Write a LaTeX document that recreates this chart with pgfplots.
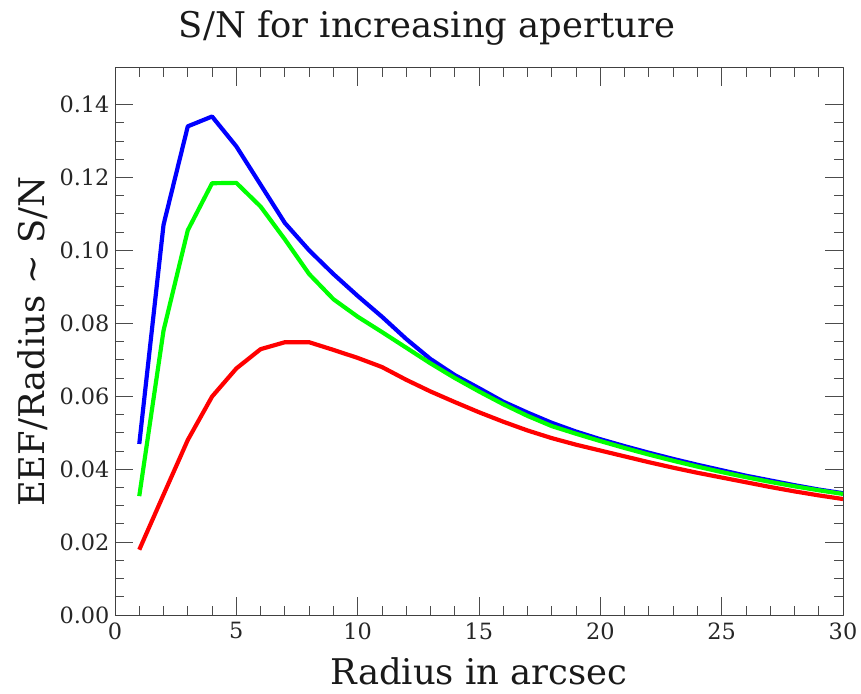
\documentclass[border=0pt]{standalone}
\usepackage{fontspec}
\setmainfont{DejaVu Serif}
\usepackage{pgfplots}
\pgfplotsset{compat=1.18}
\pgfplotstableread{
r blue green red
1 0.0469 0.0326 0.0179
2 0.1070 0.0780 0.0330
3 0.1340 0.1055 0.0480
4 0.1367 0.1184 0.0599
5 0.1285 0.1185 0.0676
6 0.1180 0.1120 0.0729
7 0.1075 0.1030 0.0748
8 0.1000 0.0935 0.0748
9 0.0935 0.0866 0.0727
10 0.0875 0.0818 0.0705
11 0.0818 0.0776 0.0680
12 0.0757 0.0733 0.0645
13 0.0702 0.0690 0.0613
14 0.0658 0.0650 0.0584
15 0.0622 0.0613 0.0556
16 0.0585 0.0578 0.0530
17 0.0555 0.0546 0.0506
18 0.0527 0.0518 0.0485
19 0.0503 0.0497 0.0467
20 0.0482 0.0477 0.0451
21 0.0463 0.0458 0.0435
22 0.0445 0.0440 0.0419
23 0.0428 0.0423 0.0404
24 0.0412 0.0407 0.0390
25 0.0397 0.0392 0.0377
26 0.0382 0.0378 0.0364
27 0.0369 0.0365 0.0351
28 0.0356 0.0353 0.0339
29 0.0344 0.0342 0.0328
30 0.0334 0.0332 0.0318
}\datatable
\begin{document}
\begin{tikzpicture}
\begin{axis}[
  scale only axis,
  width=728bp, height=547bp,
  xmin=0, xmax=30, ymin=0, ymax=0.15,
  xtick={0,5,...,30},
  ytick={0,0.02,...,0.14},
  minor x tick num=4,
  minor y tick num=3,
  tick align=inside,
  major tick length=18bp,
  minor tick length=9bp,
  every tick/.style={black!70, line width=0.8pt},
  axis line style={black!75, line width=1pt},
  tick label style={font=\fontsize{22.5}{27}\selectfont, text=black!85},
  /pgf/number format/assume math mode=true,
  yticklabel style={xshift=-2bp, /pgf/number format/.cd, fixed, fixed zerofill, precision=2},
  xticklabel style={yshift=-4bp},
  xlabel={Radius in arcsec},
  ylabel={EEF/Radius \textasciitilde{} S/N},
  label style={font=\fontsize{35.5}{40}\selectfont, text=black!90},
  xlabel style={at={(axis description cs:0.5,0)}, anchor=base, yshift=-69bp},
  ylabel style={at={(axis description cs:-0.0962,0.5)}, anchor=base},
  line join=round,
]
\addplot[blue, line width=4.2pt] table[x=r, y=blue] {\datatable};
\addplot[green, line width=4.2pt] table[x=r, y=green] {\datatable};
\addplot[red, line width=4.2pt] table[x=r, y=red] {\datatable};
\end{axis}
\node[anchor=base, font=\fontsize{35.5}{40}\selectfont, text=black!90] at ([xshift=312bp, yshift=30bp]current axis.north west) {S/N for increasing aperture};
\path ([xshift=-115bp, yshift=-79bp]current axis.south west) rectangle ++(861bp,694bp);
\end{tikzpicture}
\end{document}
